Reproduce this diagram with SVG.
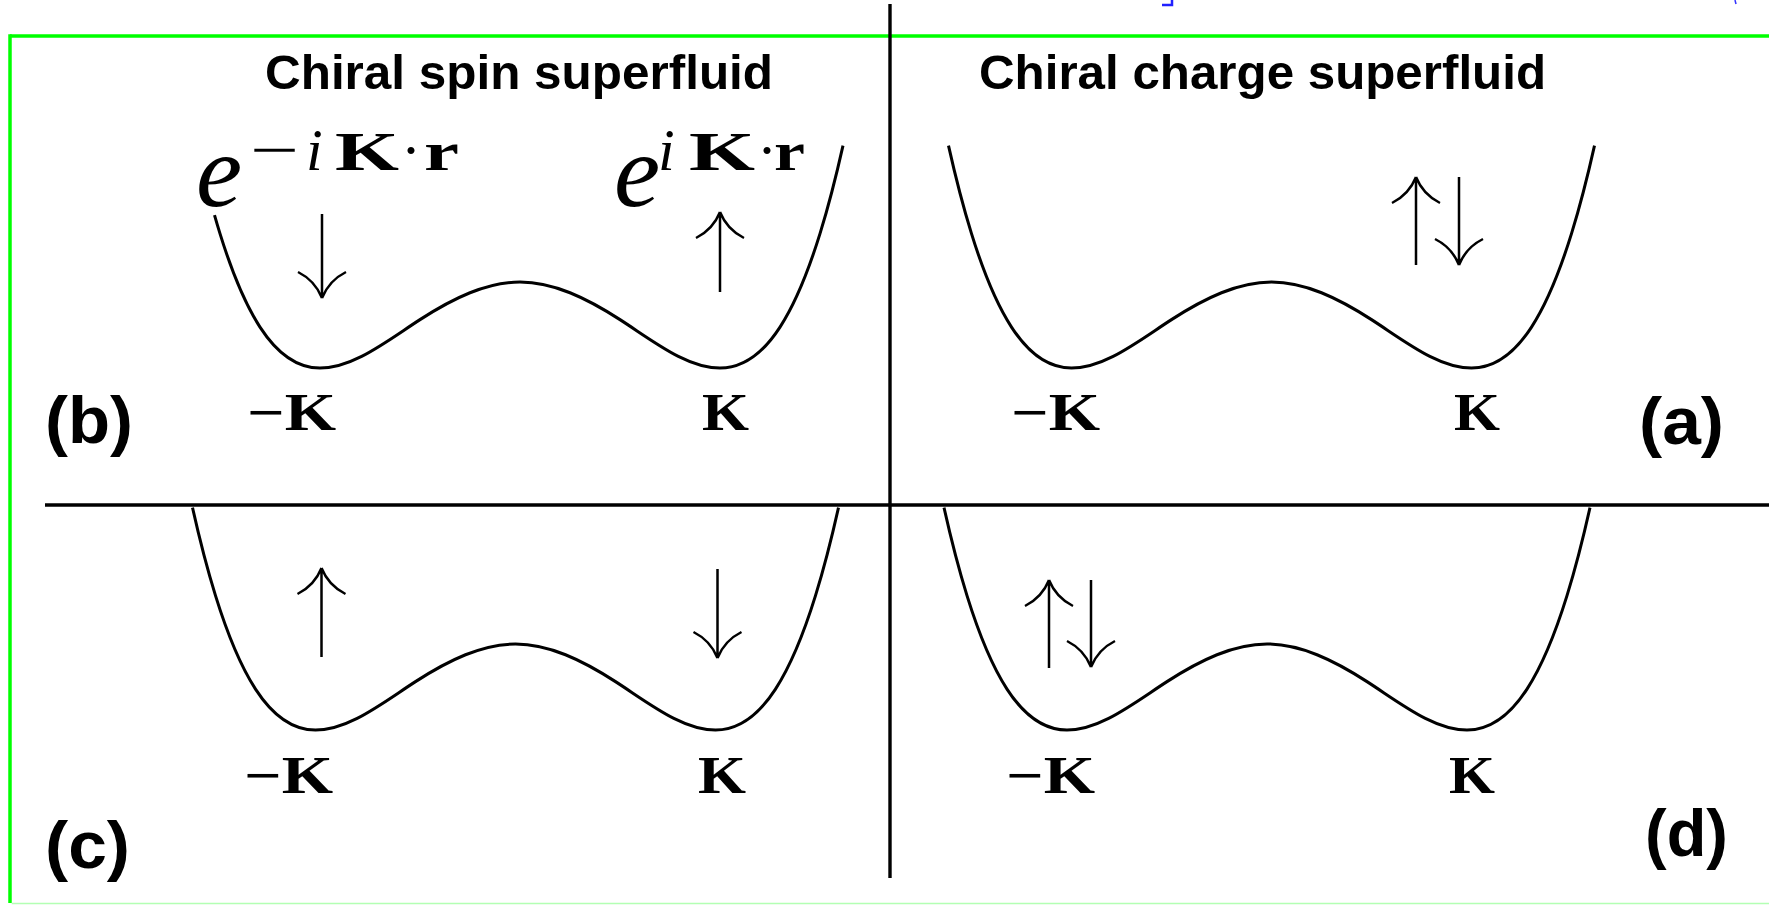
<svg xmlns="http://www.w3.org/2000/svg" xmlns:xlink="http://www.w3.org/1999/xlink" width="1769" height="905" viewBox="0 0 1769 905">
<style>
.title{font-family:"Liberation Sans",Arial,sans-serif;font-weight:bold;font-size:49px;fill:#000}
.plab{font-family:"Liberation Sans",Arial,sans-serif;font-weight:bold;font-size:67px;fill:#000}
.klab{font-family:"Liberation Serif","Times New Roman",serif;font-weight:bold;font-size:52px;fill:#000}
.eb{font-family:"Liberation Serif","Times New Roman",serif;font-style:italic;font-size:104px;fill:#000}
.ei{font-family:"Liberation Serif","Times New Roman",serif;font-style:italic;font-size:60px;fill:#000}
.ek{font-family:"Liberation Serif","Times New Roman",serif;font-weight:bold;font-size:55px;fill:#000}
.em{font-family:"Liberation Serif","Times New Roman",serif;font-size:60px;fill:#000}
.curve{fill:none;stroke:#000;stroke-width:3}
.arr{fill:none;stroke:#000;stroke-width:2.5}
.rule{stroke:#000;stroke-width:3.4}
</style>
<defs>
<path id="well" d="M-323,-222.4 C-315.33,-188.15 -307.67,-159.1 -300,-134.38 C-286.67,-91.38 -273.33,-61.51 -260,-40.94 C-240,-10.08 -220,0 -200,0 C-166.67,0 -133.33,-26.88 -100,-48.38 C-66.67,-69.88 -33.33,-86 0,-86 C33.33,-86 66.67,-69.88 100,-48.38 C133.33,-26.88 166.67,0 200,0 C220,0 240,-10.08 260,-40.94 C273.33,-61.51 286.67,-91.38 300,-134.38 C307.67,-159.1 315.33,-188.15 323,-222.4"/>
</defs>
<rect x="0" y="0" width="1769" height="905" fill="#fff"/>
<g id="frame">
<line x1="10" y1="36" x2="1769" y2="36" stroke="#00ff00" stroke-width="3.5"/>
<line x1="10" y1="34.3" x2="10" y2="903" stroke="#00ff00" stroke-width="3.5"/>
<line x1="11.7" y1="903.5" x2="1769" y2="903.5" stroke="#b3ffb3" stroke-width="1.5"/>
<line class="rule" x1="890" y1="4" x2="890" y2="878"/>
<line class="rule" x1="45" y1="505" x2="1769" y2="505"/>
<path d="M1162,5 H1172 V0" fill="none" stroke="#2020ff" stroke-width="2.5"/>
<line x1="1735" y1="0" x2="1736" y2="4" stroke="#3333ff" stroke-width="1.5"/>
</g>
<g id="connectors"></g>
<g id="panel-b">
<text class="title" x="265" y="89" textLength="508" lengthAdjust="spacingAndGlyphs">Chiral spin superfluid</text>
<path class="curve" transform="translate(520,368)" d="M-305.5,-152.9 C-303.67,-146.48 -301.83,-140.29 -300,-134.38 C-286.67,-91.38 -273.33,-61.51 -260,-40.94 C-240,-10.08 -220,0 -200,0 C-166.67,0 -133.33,-26.88 -100,-48.38 C-66.67,-69.88 -33.33,-86 0,-86 C33.33,-86 66.67,-69.88 100,-48.38 C133.33,-26.88 166.67,0 200,0 C220,0 240,-10.08 260,-40.94 C273.33,-61.51 286.67,-91.38 300,-134.38 C307.67,-159.1 315.33,-188.15 323,-222.4"/>
<text class="eb" x="196" y="206">e</text>
<text class="em" x="250" y="170" textLength="49" lengthAdjust="spacingAndGlyphs">−</text>
<text class="ei" x="306" y="170">i</text>
<text class="ek" x="335" y="170" textLength="64" lengthAdjust="spacingAndGlyphs">K</text>
<text class="em" x="401" y="170">·</text>
<text class="ek" x="424" y="170" textLength="35" lengthAdjust="spacingAndGlyphs">r</text>
<text class="eb" x="614" y="206">e</text>
<text class="ei" x="658" y="170">i</text>
<text class="ek" x="689" y="170" textLength="66" lengthAdjust="spacingAndGlyphs">K</text>
<text class="em" x="757" y="170">·</text>
<text class="ek" x="774" y="170" textLength="31" lengthAdjust="spacingAndGlyphs">r</text>
<path class="arr" d="M322,214 V298 M298,272 Q315,280.5 322,298 M346,272 Q329,280.5 322,298"/>
<path class="arr" d="M720,292 V212 M696,238 Q713,229.5 720,212 M744,238 Q727,229.5 720,212"/>
<text class="klab" x="247" y="430" textLength="89" lengthAdjust="spacingAndGlyphs">−K</text>
<text class="klab" x="702" y="430" textLength="47" lengthAdjust="spacingAndGlyphs">K</text>
<text class="plab" x="45" y="443" textLength="88" lengthAdjust="spacingAndGlyphs">(b)</text>
</g>
<g id="panel-a">
<text class="title" x="979" y="89" textLength="567" lengthAdjust="spacingAndGlyphs">Chiral charge superfluid</text>
<use xlink:href="#well" href="#well" class="curve" transform="translate(1271.5,368)"/>
<path class="arr" d="M1416,265 V177 M1392,203 Q1409,194.5 1416,177 M1440,203 Q1423,194.5 1416,177"/>
<path class="arr" d="M1459,177 V265 M1435,239 Q1452,247.5 1459,265 M1483,239 Q1466,247.5 1459,265"/>
<text class="klab" x="1011" y="430" textLength="89" lengthAdjust="spacingAndGlyphs">−K</text>
<text class="klab" x="1454" y="430" textLength="46" lengthAdjust="spacingAndGlyphs">K</text>
<text class="plab" x="1724" y="444" text-anchor="end" textLength="85" lengthAdjust="spacingAndGlyphs">(a)</text>
</g>
<g id="panel-c">
<use xlink:href="#well" href="#well" class="curve" transform="translate(515.5,730)"/>
<path class="arr" d="M321.5,657 V568 M297.5,594 Q314.5,585.5 321.5,568 M345.5,594 Q328.5,585.5 321.5,568"/>
<path class="arr" d="M717.5,569 V658 M693.5,632 Q710.5,640.5 717.5,658 M741.5,632 Q724.5,640.5 717.5,658"/>
<text class="klab" x="244" y="793" textLength="89" lengthAdjust="spacingAndGlyphs">−K</text>
<text class="klab" x="698" y="793" textLength="48" lengthAdjust="spacingAndGlyphs">K</text>
<text class="plab" x="45" y="868" textLength="85" lengthAdjust="spacingAndGlyphs">(c)</text>
</g>
<g id="panel-d">
<use xlink:href="#well" href="#well" class="curve" transform="translate(1267,730)"/>
<path class="arr" d="M1049,668 V580 M1025,606 Q1042,597.5 1049,580 M1073,606 Q1056,597.5 1049,580"/>
<path class="arr" d="M1091,580 V667 M1067,641 Q1084,649.5 1091,667 M1115,641 Q1098,649.5 1091,667"/>
<text class="klab" x="1006" y="793" textLength="89" lengthAdjust="spacingAndGlyphs">−K</text>
<text class="klab" x="1449" y="793" textLength="46" lengthAdjust="spacingAndGlyphs">K</text>
<text class="plab" x="1728" y="856" text-anchor="end" textLength="83" lengthAdjust="spacingAndGlyphs">(d)</text>
</g>
</svg>
